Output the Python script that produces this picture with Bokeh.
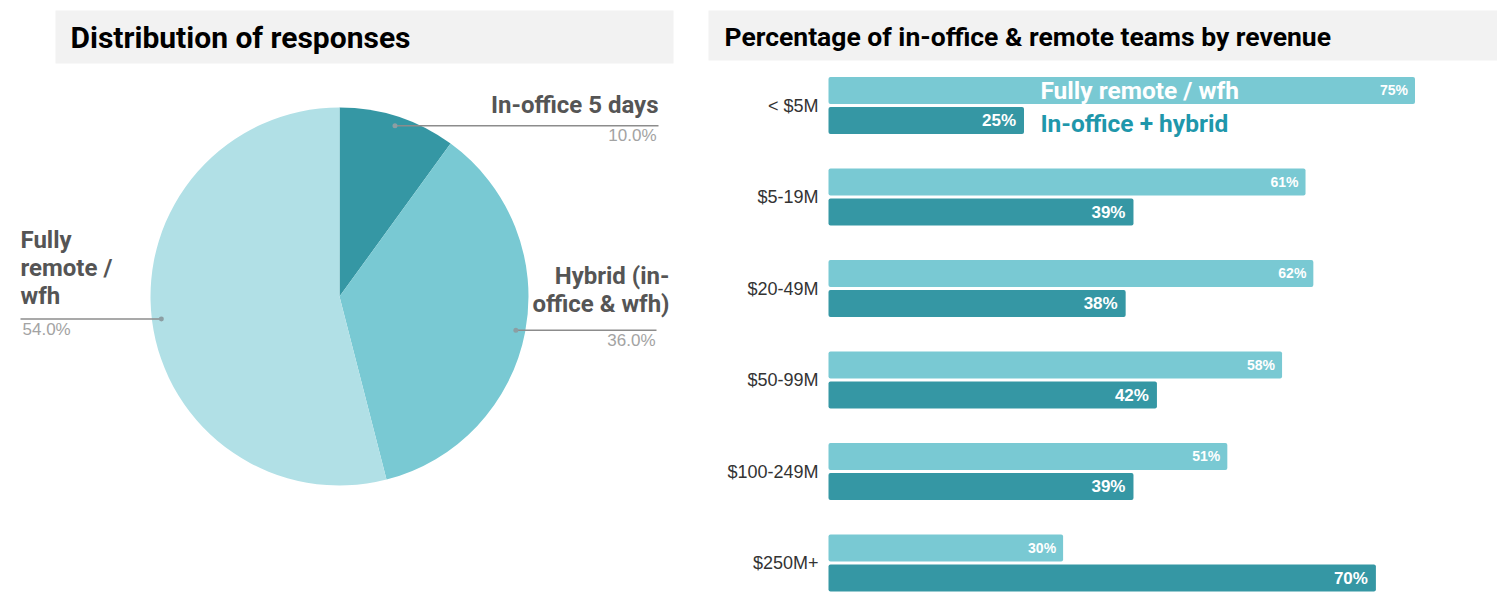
import numpy as np
from bokeh.plotting import figure
from bokeh.layouts import row
from bokeh.models import Range1d, ColumnDataSource
from bokeh.transform import dodge
from bokeh.core.properties import value
from bokeh.embed import file_html
from bokeh.resources import INLINE

# ---------------- data ----------------
left_title = "Distribution of responses"
right_title = "Percentage of in-office & remote teams by revenue"

pie_labels = ["In-office 5 days", "Hybrid (in-\noffice & wfh)", "Fully\nremote /\nwfh"]
pie_values = [10.0, 36.0, 54.0]

rev_cats = ["< $5M", "$5-19M", "$20-49M", "$50-99M", "$100-249M", "$250M+"]
remote_pct = [75, 61, 62, 58, 51, 30]
office_pct = [25, 39, 38, 42, 39, 70]
series_names = ["Fully remote / wfh", "In-office + hybrid"]

# ---------------- styles ----------------
DARK = "#3597a4"
LIGHT = "#79c9d3"
PALE = "#b1e0e6"
pie_colors = [DARK, LIGHT, PALE]
BOX = "#f2f2f2"
BOLD = value("Roboto")
SANS = value("Liberation Sans")

# ---------------- left panel: pie ----------------
lp = figure(width=700, height=599, x_range=Range1d(0, 700), y_range=Range1d(-599, 0),
            output_backend="svg", toolbar_location=None, x_axis_type=None, y_axis_type=None,
            min_border=0, title=None)
lp.outline_line_color = None
lp.grid.visible = False

lp.quad(left=55, right=673, top=-10, bottom=-63, fill_color=BOX, line_color=None)
lp.text(x=[70], y=[-37], text=[left_title], text_font=BOLD, text_font_style="bold",
        text_font_size="30px", text_baseline="middle", text_color="#000000")

cx, cy, R = 339, -296, 189
fr = np.array(pie_values) / sum(pie_values)
ends = np.pi / 2 - 2 * np.pi * np.cumsum(fr)
starts = np.concatenate([[np.pi / 2], ends[:-1]])
lp.wedge(x=cx, y=cy, radius=R, start_angle=starts, end_angle=ends, direction="clock",
         fill_color=pie_colors, line_color=None)

mids = (starts + ends) / 2
dot_x = cx + 0.95 * R * np.cos(mids)
dot_y = cy + 0.95 * R * np.sin(mids)

# label layout (per slice)
line_end = [658, 656, 20]
name_x = [658, 669, 20]
pct_x = [656, 655, 22]
aligns = ["right", "right", "left"]
gaps = [21, 26, 23]
step = 28

for i in range(3):
    ly = dot_y[i]
    lp.line(x=[dot_x[i], line_end[i]], y=[ly, ly], line_color="#8c8c8c", line_width=1.5)
    lines = pie_labels[i].split("\n")
    n = len(lines)
    ys = [ly + gaps[i] + step * (n - 1 - k) for k in range(n)]
    lp.text(x=[name_x[i]] * n, y=ys, text=lines, text_font=BOLD, text_font_style="bold",
            text_font_size="24px", text_align=aligns[i], text_baseline="alphabetic",
            text_color="#555555")
    lp.text(x=[pct_x[i]], y=[ly - 10], text=[f"{pie_values[i]:.1f}%"], text_font=SANS,
            text_font_size="17px", text_align=aligns[i], text_baseline="middle",
            text_color="#a3a3a3")
lp.scatter(x=dot_x, y=dot_y, size=5, fill_color="#8c9ea3", line_color=None)

# ---------------- right panel ----------------
rb = figure(width=797, height=599, x_range=Range1d(700, 1497), y_range=Range1d(-599, 0),
            output_backend="svg", toolbar_location=None, x_axis_type=None, y_axis_type=None,
            min_border=0, title=None)
rb.outline_line_color = None
rb.grid.visible = False
# percent scale: 0% at x=828, ~7.82 px per percent; group scale: 91.5 px per category
rb.extra_x_ranges = {"pct": Range1d(-(828 - 700) / 7.82, (1497 - 828) / 7.82)}
rb.extra_y_ranges = {"grp": Range1d((599 - 105) / 91.5, -105 / 91.5)}

rb.quad(left=708, right=1497, top=-10, bottom=-60, fill_color=BOX, line_color=None)
rb.text(x=[724], y=[-36], text=[right_title], text_font=BOLD, text_font_style="bold",
        text_font_size="26.5px", text_baseline="middle", text_color="#000000")

src = ColumnDataSource(dict(
    cat=rev_cats, idx=list(range(len(rev_cats))), remote=remote_pct, office=office_pct,
    remote_lbl=[f"{v}%" for v in remote_pct], office_lbl=[f"{v}%" for v in office_pct]))

off = 0.164
h = 0.295
kw = dict(x_range_name="pct", y_range_name="grp", source=src)
rb.hbar(y=dodge("idx", -off), left=0, right="remote", height=h,
        fill_color=LIGHT, line_color=None, border_radius=2, **kw)
rb.hbar(y=dodge("idx", off), left=0, right="office", height=h,
        fill_color=DARK, line_color=None, border_radius=2, **kw)
rb.text(x="remote", y=dodge("idx", -off), text="remote_lbl",
        x_offset=-7, text_align="right", text_baseline="middle", text_color="white",
        text_font=SANS, text_font_style="bold", text_font_size="14px", **kw)
rb.text(x="office", y=dodge("idx", off), text="office_lbl",
        x_offset=-8, text_align="right", text_baseline="middle", text_color="white",
        text_font=SANS, text_font_style="bold", text_font_size="17px", **kw)
# category labels (axis-like, right aligned just left of the 0% line)
rb.text(x=-1.28, y="idx", text="cat", text_align="right", text_baseline="middle",
        text_color="#333333", text_font=SANS, text_font_size="18px", **kw)

# in-chart legend
leg = ColumnDataSource(dict(x=[27.1, 27.1], y=[-off, off + 0.03], t=series_names,
                            c=["#ffffff", "#1f97ab"]))
rb.text(x="x", y="y", text="t", text_color="c", source=leg, x_range_name="pct",
        y_range_name="grp", text_align="left", text_baseline="middle",
        text_font=BOLD, text_font_style="bold", text_font_size="24.5px")

layout = row(lp, rb)
open("out.html", "w").write(file_html(layout, INLINE))
